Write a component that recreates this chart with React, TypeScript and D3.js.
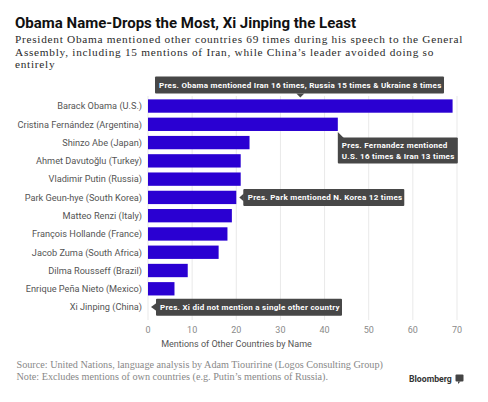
import React from "react";
import * as d3 from "d3";

const leaders = [
  "Barack Obama (U.S.)",
  "Cristina Fernández (Argentina)",
  "Shinzo Abe (Japan)",
  "Ahmet Davutoğlu (Turkey)",
  "Vladimir Putin (Russia)",
  "Park Geun-hye (South Korea)",
  "Matteo Renzi (Italy)",
  "François Hollande (France)",
  "Jacob Zuma (South Africa)",
  "Dilma Rousseff (Brazil)",
  "Enrique Peña Nieto (Mexico)",
  "Xi Jinping (China)",
];
const mentions = [69, 43, 23, 21, 21, 20, 19, 18, 16, 9, 6, 0];
const xTicks = [0, 10, 20, 30, 40, 50, 60, 70];

const title = "Obama Name-Drops the Most, Xi Jinping the Least";
const subtitle = [
  "President Obama mentioned other countries 69 times during his speech to the General",
  "Assembly, including 15 mentions of Iran, while China’s leader avoided doing so",
  "entirely",
];
const axisTitle = "Mentions of Other Countries by Name";
const footer = [
  "Source: United Nations, language analysis by Adam Tiouririne (Logos Consulting Group)",
  "Note: Excludes mentions of own countries (e.g. Putin’s mentions of Russia).",
];
const noteObama = "Pres. Obama mentioned Iran 16 times, Russia 15 times & Ukraine 8 times";
const noteFernandez = ["Pres. Fernandez mentioned", "U.S. 16 times & Iran 13 times"];
const notePark = "Pres. Park mentioned N. Korea 12 times";
const noteXi = "Pres. Xi did not mention a single other country";

const BAR = "#2a00d2";
const BOX = "#474747";
const SANS = "Roboto, 'Liberation Sans', sans-serif";
const SERIF = "'Liberation Serif', 'DejaVu Serif', serif";

export default function App() {
  const W = 488, H = 402;
  const x = d3.scaleLinear().domain([0, 70]).range([148, 457]);
  const y = d3
    .scaleBand<string>()
    .domain(leaders)
    .range([96.9, 316.2])
    .paddingInner(0.27)
    .paddingOuter(0.135);
  const bw = y.bandwidth();
  const cy = (n: string) => (y(n) as number) + bw / 2;

  const annFont = {
    fontFamily: SANS,
    fontSize: 8,
    fontWeight: 700,
    fill: "#fff",
    letterSpacing: 0.28,
  } as const;

  const obY = cy(leaders[0]);
  const obPx = x(mentions[0] / 2);
  const feX = x(mentions[1]);
  const feBottom = (y(leaders[1]) as number) + bw;
  const paX = x(mentions[5]);
  const paY = cy(leaders[5]);
  const xiX = x(mentions[11]);
  const xiY = cy(leaders[11]);

  return (
    <svg width={W} height={H} style={{ position: "absolute", left: 0, top: 0, background: "#fff" }}>
      <rect width={W} height={H} fill="#fff" />
      <text x={15} y={27.5} fontFamily={SANS} fontWeight={700} fontSize={15} fill="#111">
        {title}
      </text>
      {subtitle.map((s, i) => (
        <text
          key={i}
          x={15}
          y={43.3 + i * 12.4}
          fontFamily={SERIF}
          fontSize={11.3}
          letterSpacing={0.72}
          fill="#2a2a2a"
        >
          {s}
        </text>
      ))}

      {xTicks.map((t) => (
        <g key={t}>
          <line x1={x(t)} x2={x(t)} y1={96} y2={320} stroke="#e9e9e9" strokeWidth={1} />
          <text x={x(t)} y={333} textAnchor="middle" fontFamily={SANS} fontSize={9} fill="#8a8a8a">
            {t}
          </text>
        </g>
      ))}

      {leaders.map((n, i) => (
        <g key={n}>
          {mentions[i] > 0 && (
            <rect x={x(0)} y={y(n)} width={x(mentions[i]) - x(0)} height={bw} fill={BAR} />
          )}
          <text
            x={142}
            y={cy(n) + 3.3}
            textAnchor="end"
            fontFamily={SANS}
            fontSize={9.2}
            fill="#555"
          >
            {n}
          </text>
        </g>
      ))}

      <text x={236.5} y={347} textAnchor="middle" fontFamily={SANS} fontSize={9} fill="#555">
        {axisTitle}
      </text>

      {/* Obama note */}
      <rect x={155} y={obY - 29.5} width={289} height={17} fill={BOX} rx={1} />
      <path d={`M${obPx - 4},${obY - 12.5} L${obPx + 4},${obY - 12.5} L${obPx},${obY - 8.5} Z`} fill={BOX} />
      <text x={159} y={obY - 18} {...annFont}>
        {noteObama}
      </text>

      {/* Fernandez note */}
      <rect x={feX} y={feBottom + 6.5} width={120} height={26} fill={BOX} rx={1} />
      <path d={`M${feX},${feBottom + 1} L${feX},${feBottom + 7} L${feX + 6},${feBottom + 7} Z`} fill={BOX} />
      {noteFernandez.map((s, i) => (
        <text key={i} x={feX + 4} y={feBottom + 17.5 + i * 10.6} {...annFont}>
          {s}
        </text>
      ))}

      {/* Park note */}
      <rect x={paX + 7} y={paY - 8.3} width={161} height={17} fill={BOX} rx={1} />
      <path d={`M${paX + 3},${paY} L${paX + 7.5},${paY - 4} L${paX + 7.5},${paY + 4} Z`} fill={BOX} />
      <text x={paX + 11.5} y={paY + 3} {...annFont}>
        {notePark}
      </text>

      {/* Xi note */}
      <rect x={xiX + 8} y={xiY - 8.3} width={186} height={17} fill={BOX} rx={1} />
      <path d={`M${xiX + 3},${xiY} L${xiX + 8.5},${xiY - 4} L${xiX + 8.5},${xiY + 4} Z`} fill={BOX} />
      <text x={xiX + 12} y={xiY + 3} {...annFont}>
        {noteXi}
      </text>

      {footer.map((s, i) => (
        <text key={i} x={16.5} y={368 + i * 11.5} fontFamily={SERIF} fontSize={10.2} fill="#888">
          {s}
        </text>
      ))}

      <text x={409} y={381.5} fontFamily={SANS} fontWeight={700} fontSize={8.7} fill="#333">
        Bloomberg
      </text>
      <rect x={455.5} y={374.5} width={8} height={7} fill="#444" rx={1} />
      <path d="M458,381.5 L458,384 L460.5,381.5 Z" fill="#444" />
    </svg>
  );
}
